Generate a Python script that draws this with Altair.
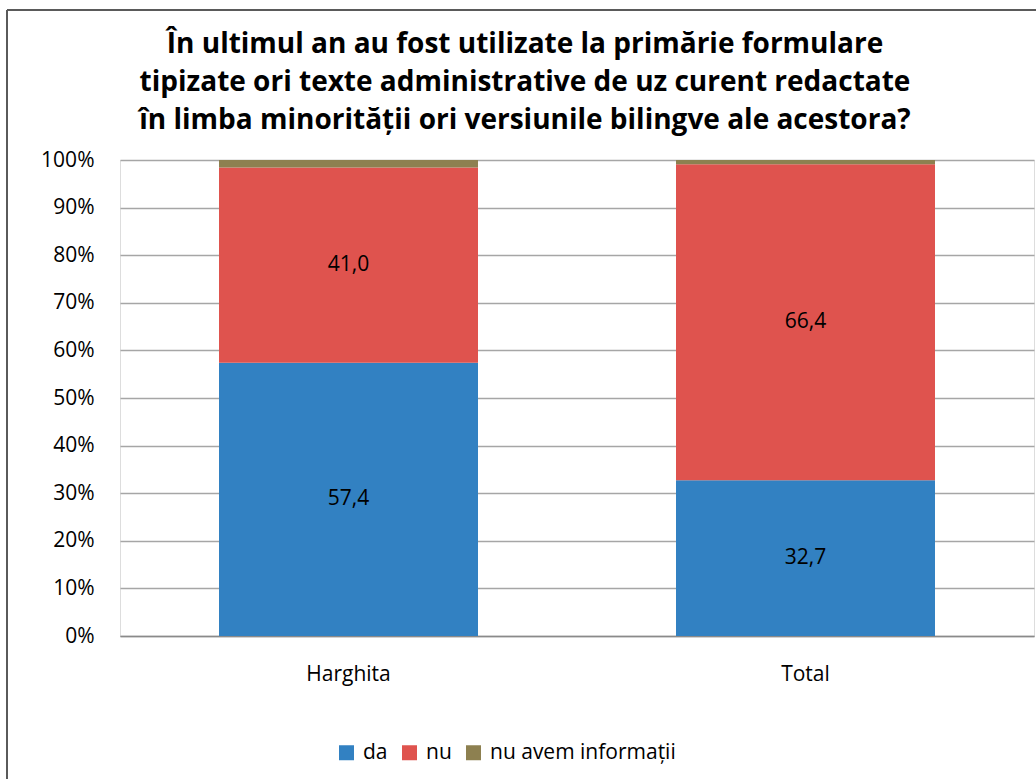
import altair as alt
import pandas as pd

# Survey answers, percent of respondents per area
categories = ["Harghita", "Total"]
series = ["da", "nu", "nu avem informații"]
da_values = [57.4, 32.7]
nu_values = [41.0, 66.4]
no_info_values = [1.6, 0.9]
colors = ["#3281C2", "#DF534E", "#8D8050"]

rows = []
for i, cat in enumerate(categories):
    for order, (name, vals) in enumerate(zip(series, [da_values, nu_values, no_info_values])):
        rows.append({
            "cat": cat,
            "series": name,
            "value": vals[i],
            "order": order,
            "label": f"{vals[i]:.1f}".replace(".", ","),
        })
df = pd.DataFrame(rows)

FONT = "Open Sans"
FS = 21
TITLE = [
    "În ultimul an au fost utilizate la primărie formulare",
    "tipizate ori texte administrative de uz curent redactate",
    "în limba minorității ori versiunile bilingve ale acestora?",
]

base = alt.Chart(df).transform_stack(
    stack="value", as_=["v0", "v1"], groupby=["cat"],
    sort=[alt.SortField("order", order="ascending")],
).transform_calculate(mid="(datum.v0 + datum.v1) / 2")

x_enc = alt.X(
    "cat:N", sort=categories, title=None,
    scale=alt.Scale(paddingInner=0, paddingOuter=0),
    axis=alt.Axis(labelAngle=0, ticks=False, domain=True, domainColor="#8a8a8a",
                  domainWidth=1.5, labelFont=FONT, labelFontSize=FS,
                  labelColor="#000000", labelPadding=27, grid=False),
)

bars = base.mark_bar(size=259).encode(
    x=x_enc,
    y=alt.Y("v0:Q", title=None, scale=alt.Scale(domain=[0, 100], nice=False),
            axis=alt.Axis(values=list(range(0, 101, 10)), labelExpr="datum.value + '%'",
                          ticks=False, domain=False, grid=True, gridColor="#a6a6a6",
                          gridWidth=1.5, labelFont=FONT, labelFontSize=FS,
                          labelColor="#000000", labelPadding=26)),
    y2="v1:Q",
    color=alt.Color("series:N", scale=alt.Scale(domain=series, range=colors),
                    legend=alt.Legend(title=None, orient="none", direction="horizontal",
                                      legendX=216, legendY=582, symbolType="square",
                                      symbolSize=225, symbolStrokeWidth=0,
                                      labelFont=FONT, labelFontSize=FS, labelLimit=0,
                                      labelColor="#000000", labelOffset=6,
                                      columnPadding=11)),
    order=alt.Order("order:Q"),
)

labels = base.transform_filter("datum.order < 2").mark_text(
    font=FONT, fontSize=FS, color="#000000", baseline="middle", align="center"
).encode(
    x=alt.X("cat:N", sort=categories),
    y=alt.Y("mid:Q"),
    text="label:N",
)

# Outer frame around the whole figure
frame_left = alt.Chart(df).mark_rule(color="#5a5a5a", strokeWidth=2).encode(
    x=alt.value(-113), y=alt.value(-150), y2=alt.value(700))
frame_top = alt.Chart(df).mark_rule(color="#5a5a5a", strokeWidth=2).encode(
    x=alt.value(-113), x2=alt.value(1000), y=alt.value(-150))

# The frame rules reach above the plot, so the title offset is measured from them
chart = alt.layer(bars, labels, frame_left, frame_top).properties(
    width=914, height=476,
    title=alt.TitleParams(text=TITLE, font="Open Sans", fontSize=28, fontWeight="bold",
                          color="#000000", anchor="middle", frame="group", dx=-52,
                          lineHeight=38, offset=-126),
    autosize=alt.AutoSizeParams(type="none"),
    padding={"left": 120, "top": 160, "right": 2, "bottom": 143},
).configure_view(stroke=None).configure(background="#ffffff")

chart.save("out.html", embed_options={"renderer": "svg", "actions": False})
